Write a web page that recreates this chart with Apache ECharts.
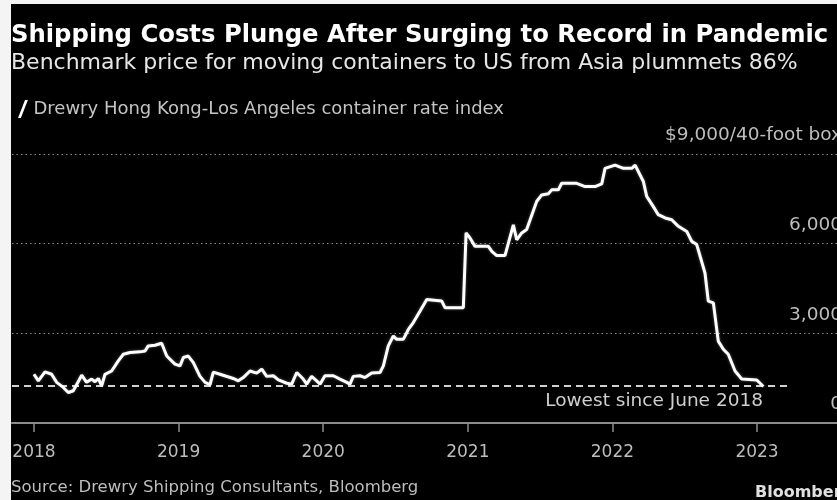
<!DOCTYPE html>
<html>
<head>
<meta charset="utf-8">
<script src="https://cdn.jsdelivr.net/npm/echarts@6/dist/echarts.min.js"></script>
<style>
html,body{margin:0;padding:0;background:#000;overflow:hidden;}
#chart{width:837px;height:500px;}
</style>
</head>
<body>
<div id="chart"></div>
<script>
// Time in decimal years, values in $ per 40-foot box
const DATES = [
2018.00,2018.03,2018.076,2018.122,2018.157,2018.203,2018.237,2018.272,2018.330,2018.364,
2018.399,2018.422,2018.445,2018.468,2018.491,2018.537,2018.583,2018.618,2018.664,2018.733,
2018.768,2018.790,2018.837,2018.883,2018.918,2018.975,2019.010,2019.033,2019.067,2019.102,
2019.148,2019.183,2019.217,2019.240,2019.286,2019.378,2019.413,2019.447,2019.494,2019.540,
2019.575,2019.609,2019.655,2019.690,2019.748,2019.782,2019.817,2019.862,2019.886,2019.920,
2019.955,2019.978,2020.012,2020.070,2020.116,2020.163,2020.185,2020.208,2020.254,2020.289,
2020.335,2020.393,2020.416,2020.450,2020.485,2020.508,2020.554,2020.589,2020.623,2020.669,
2020.716,2020.820,2020.842,2020.969,2020.988,2021.015,2021.050,2021.142,2021.166,2021.200,
2021.257,2021.315,2021.338,2021.373,2021.407,2021.476,2021.511,2021.557,2021.580,2021.626,
2021.649,2021.753,2021.811,2021.880,2021.926,2021.949,2022.018,2022.076,2022.134,2022.157,
2022.214,2022.237,2022.283,2022.317,2022.364,2022.410,2022.456,2022.514,2022.548,2022.583,
2022.640,2022.663,2022.698,2022.732,2022.767,2022.801,2022.848,2022.894,2022.998,2023.044
];
const RATES = [
1630,1410,1710,1630,1360,1190,1020,1080,1600,1360,
1470,1380,1490,1240,1630,1740,2080,2300,2360,2380,
2410,2580,2600,2670,2240,1970,1910,2190,2240,2020,
1560,1360,1280,1700,1630,1490,1410,1520,1740,1670,
1800,1560,1580,1440,1330,1300,1690,1470,1300,1560,
1410,1300,1580,1580,1470,1360,1300,1560,1580,1520,
1670,1690,1910,2580,2910,2800,2800,3130,3360,3740,
4130,4080,3860,3860,6360,6190,5910,5910,5740,5600,
5600,6630,6130,6360,6470,7410,7630,7670,7800,7800,
8020,8020,7910,7910,8000,8520,8630,8520,8520,8630,
8080,7580,7240,6970,6860,6800,6580,6410,6080,5970,
5020,4080,4020,2740,2470,2300,1740,1470,1440,1220
];
const YEAR_TICKS = [2018, 2019, 2020, 2021, 2022, 2023];
const LOW_VALUE = 1230;
const LOW_START = 2017.848;
const LOW_END = 2023.207;
const X_MIN = 2017.848;
const X_MAX = 2023.553;
const TITLE = 'Shipping Costs Plunge After Surging to Record in Pandemic';
const SUBTITLE = 'Benchmark price for moving containers to US from Asia plummets 86%';
const SERIES_NAME = 'Drewry Hong Kong-Los Angeles container rate index';
const SOURCE = 'Source: Drewry Shipping Consultants, Bloomberg';
const LOW_LABEL = 'Lowest since June 2018';

const FONT = '"DejaVu Sans", sans-serif';
const data = DATES.map((d, i) => [d, RATES[i]]);

const chart = echarts.init(document.getElementById('chart'));
chart.setOption({
  backgroundColor: '#000',
  animation: false,
  textStyle: { fontFamily: FONT },
  grid: { left: 12, right: 0, top: 154, bottom: 77, containLabel: false, outerBoundsMode: 'none' },
  legend: {
    left: 13, top: 95,
    itemWidth: 11, itemHeight: 18, itemGap: 8,
    icon: 'path://M0,20 L3.2,20 L11,0 L7.8,0 Z',
    textStyle: { color: '#c4c4c4', fontSize: 18, fontFamily: FONT },
    data: [{ name: SERIES_NAME, itemStyle: { color: '#fff' } }]
  },
  xAxis: {
    type: 'value', min: X_MIN, max: X_MAX,
    axisLine: { show: true, lineStyle: { color: '#8c8c8c', width: 2 } },
    axisTick: { show: true, customValues: YEAR_TICKS, length: 9, lineStyle: { color: '#8c8c8c', width: 1.5 } },
    axisLabel: { customValues: YEAR_TICKS, formatter: v => String(Math.round(v)), color: '#bdbdbd', fontSize: 17, margin: 21, fontFamily: FONT },
    splitLine: { show: false }
  },
  yAxis: {
    type: 'value', position: 'right', min: 0, max: 9000, interval: 3000,
    axisLine: { show: false }, axisTick: { show: false },
    axisLabel: {
      inside: true, margin: -5, verticalAlign: 'bottom', padding: [0, 0, 9, 0],
      color: '#bdbdbd', fontSize: 18.5, fontFamily: FONT,
      formatter: v => v === 9000 ? '$9,000/40-foot box' : (v === 0 ? '0' : v.toLocaleString('en-US'))
    },
    splitLine: { show: true, lineStyle: { color: '#8a8a8a', type: [1.5, 3], width: 1.2 } }
  },
  series: [{
    name: SERIES_NAME, type: 'line', data: data, showSymbol: false, symbol: 'none',
    lineStyle: { color: '#fff', width: 3, shadowColor: 'rgba(255,255,255,0.35)', shadowBlur: 3 },
    itemStyle: { color: '#fff' },
    markLine: {
      silent: true, symbol: 'none',
      lineStyle: { color: '#d0d0d0', type: [7, 5], width: 2 },
      label: { show: true, position: 'insideEndBottom', formatter: LOW_LABEL, color: '#cfcfcf', fontSize: 18.5, fontFamily: FONT, distance: [24, 5] },
      data: [[{ coord: [LOW_START, LOW_VALUE] }, { coord: [LOW_END, LOW_VALUE] }]]
    },
    z: 5
  }],
  graphic: [
    { type: 'text', left: 11, top: 24, style: { text: TITLE, fill: '#fff', font: 'bold 24.3px ' + FONT } },
    { type: 'text', left: 11, top: 52, style: { text: SUBTITLE, fill: '#e6e6e6', font: '22px ' + FONT } },
    { type: 'text', left: 11, top: 479, style: { text: SOURCE, fill: '#bdbdbd', font: '16.5px ' + FONT } },
    { type: 'text', left: 755, top: 485, style: { text: 'Bloomberg', fill: '#e0e0e0', font: 'bold 16px ' + FONT } },
    { type: 'rect', shape: { x: 0, y: 0, width: 11, height: 500 }, style: { fill: '#f4f4f4' }, z: 100 },
    { type: 'rect', shape: { x: 0, y: 0, width: 837, height: 4 }, style: { fill: '#f4f4f4' }, z: 100 }
  ]
});
</script>
</body>
</html>
